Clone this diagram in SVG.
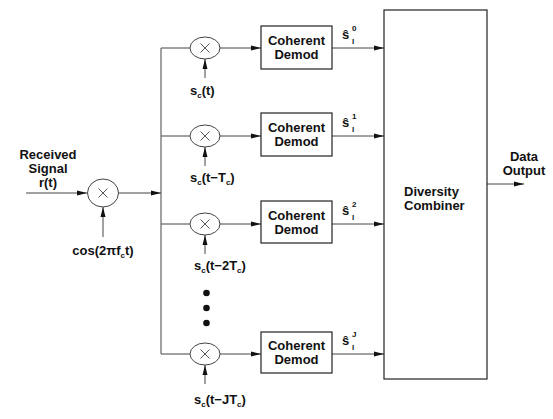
<svg xmlns="http://www.w3.org/2000/svg" width="553" height="419" viewBox="0 0 553 419">
<defs>
<marker id="ah" markerWidth="10" markerHeight="6" refX="10" refY="3" orient="auto" markerUnits="userSpaceOnUse">
<path d="M0,0.5 L10,3 L0,5.5 Z" fill="#111"/>
</marker>
</defs>
<style>
text{font-family:"Liberation Sans",Arial,sans-serif;font-weight:bold;fill:#111}
.lbl{font-size:13px}
.sm{font-size:8px}
.ln{stroke:#444;stroke-width:1;fill:none}
.box{fill:#fff;stroke:#222;stroke-width:1.2}
.mul{fill:#fff;stroke:#444;stroke-width:1}
.x{stroke:#444;stroke-width:0.9}
</style>
<rect width="553" height="419" fill="#fff"/>
<g id="connectors">
<line class="ln" x1="26" y1="193" x2="87" y2="193" marker-end="url(#ah)"/>
<line class="ln" x1="103" y1="237" x2="103" y2="207" marker-end="url(#ah)"/>
<line class="ln" x1="118" y1="193" x2="161" y2="193" marker-end="url(#ah)"/>
<line class="ln" x1="161" y1="48" x2="161" y2="354"/>
<line class="ln" x1="161" y1="48" x2="190" y2="48"/>
<line class="ln" x1="161" y1="136" x2="190" y2="136"/>
<line class="ln" x1="161" y1="224" x2="190" y2="224"/>
<line class="ln" x1="161" y1="354" x2="190" y2="354"/>
<line class="ln" x1="220" y1="48" x2="261" y2="48" marker-end="url(#ah)"/>
<line class="ln" x1="220" y1="136" x2="261" y2="136" marker-end="url(#ah)"/>
<line class="ln" x1="220" y1="224" x2="261" y2="224" marker-end="url(#ah)"/>
<line class="ln" x1="220" y1="354" x2="261" y2="354" marker-end="url(#ah)"/>
<line class="ln" x1="205" y1="78" x2="205" y2="59" marker-end="url(#ah)"/>
<line class="ln" x1="205" y1="166" x2="205" y2="147" marker-end="url(#ah)"/>
<line class="ln" x1="205" y1="254" x2="205" y2="235" marker-end="url(#ah)"/>
<line class="ln" x1="205" y1="384" x2="205" y2="365" marker-end="url(#ah)"/>
<line class="ln" x1="332" y1="48" x2="384" y2="48" marker-end="url(#ah)"/>
<line class="ln" x1="332" y1="136" x2="384" y2="136" marker-end="url(#ah)"/>
<line class="ln" x1="332" y1="224" x2="384" y2="224" marker-end="url(#ah)"/>
<line class="ln" x1="332" y1="354" x2="384" y2="354" marker-end="url(#ah)"/>
<line class="ln" x1="487" y1="184" x2="524" y2="184" marker-end="url(#ah)"/>
</g>
<g id="input">
<text class="lbl" x="48" y="159" text-anchor="middle">Received</text>
<text class="lbl" x="48" y="173" text-anchor="middle">Signal</text>
<text class="lbl" x="48" y="187" text-anchor="middle">r(t)</text>
</g>
<g id="mult-in">
<ellipse class="mul" cx="103" cy="193" rx="15.5" ry="14"/>
<line class="x" x1="98.5" y1="188.5" x2="107.5" y2="197.5"/>
<line class="x" x1="107.5" y1="188.5" x2="98.5" y2="197.5"/>
<text class="lbl" x="103" y="255" text-anchor="middle">cos(2πf<tspan class="sm" dy="3">c</tspan><tspan dy="-3">t)</tspan></text>
</g>
<g id="mult0">
<ellipse class="mul" cx="205" cy="48" rx="15" ry="11"/>
<line class="x" x1="200.5" y1="43.5" x2="209.5" y2="52.5"/>
<line class="x" x1="209.5" y1="43.5" x2="200.5" y2="52.5"/>
<text class="lbl" x="190" y="95">s<tspan class="sm" dy="3">c</tspan><tspan dy="-3">(t)</tspan></text>
</g>
<g id="mult1">
<ellipse class="mul" cx="205" cy="136" rx="15" ry="11"/>
<line class="x" x1="200.5" y1="131.5" x2="209.5" y2="140.5"/>
<line class="x" x1="209.5" y1="131.5" x2="200.5" y2="140.5"/>
<text class="lbl" x="190" y="182">s<tspan class="sm" dy="3">c</tspan><tspan dy="-3">(t−T</tspan><tspan class="sm" dy="3">c</tspan><tspan dy="-3">)</tspan></text>
</g>
<g id="mult2">
<ellipse class="mul" cx="205" cy="224" rx="15" ry="11"/>
<line class="x" x1="200.5" y1="219.5" x2="209.5" y2="228.5"/>
<line class="x" x1="209.5" y1="219.5" x2="200.5" y2="228.5"/>
<text class="lbl" x="194" y="270">s<tspan class="sm" dy="3">c</tspan><tspan dy="-3">(t−2T</tspan><tspan class="sm" dy="3">c</tspan><tspan dy="-3">)</tspan></text>
</g>
<g id="dots">
<circle cx="206.5" cy="293" r="3.3" fill="#111"/>
<circle cx="206.5" cy="308" r="3.3" fill="#111"/>
<circle cx="206.5" cy="323" r="3.3" fill="#111"/>
</g>
<g id="multJ">
<ellipse class="mul" cx="205" cy="354" rx="15" ry="11"/>
<line class="x" x1="200.5" y1="349.5" x2="209.5" y2="358.5"/>
<line class="x" x1="209.5" y1="349.5" x2="200.5" y2="358.5"/>
<text class="lbl" x="194" y="404">s<tspan class="sm" dy="3">c</tspan><tspan dy="-3">(t−JT</tspan><tspan class="sm" dy="3">c</tspan><tspan dy="-3">)</tspan></text>
</g>
<g id="demod0">
<rect class="box" x="261" y="26" width="71" height="43"/>
<text class="lbl" x="296.5" y="45" text-anchor="middle">Coherent</text>
<text class="lbl" x="296.5" y="59" text-anchor="middle">Demod</text>
</g>
<g id="demod1">
<rect class="box" x="261" y="113" width="71" height="43"/>
<text class="lbl" x="296.5" y="132" text-anchor="middle">Coherent</text>
<text class="lbl" x="296.5" y="146" text-anchor="middle">Demod</text>
</g>
<g id="demod2">
<rect class="box" x="261" y="201" width="71" height="42"/>
<text class="lbl" x="296.5" y="220" text-anchor="middle">Coherent</text>
<text class="lbl" x="296.5" y="234" text-anchor="middle">Demod</text>
</g>
<g id="demodJ">
<rect class="box" x="261" y="332" width="71" height="41"/>
<text class="lbl" x="296.5" y="350" text-anchor="middle">Coherent</text>
<text class="lbl" x="296.5" y="364" text-anchor="middle">Demod</text>
</g>
<g id="est">
<text class="lbl" x="342" y="39">ŝ</text><text class="sm" x="352" y="31">0</text><text class="sm" x="352" y="44">l</text>
<text class="lbl" x="342" y="127">ŝ</text><text class="sm" x="352" y="119">1</text><text class="sm" x="352" y="132">l</text>
<text class="lbl" x="342" y="215">ŝ</text><text class="sm" x="352" y="207">2</text><text class="sm" x="352" y="220">l</text>
<text class="lbl" x="342" y="345">ŝ</text><text class="sm" x="352" y="337">J</text><text class="sm" x="352" y="350">l</text>
</g>
<g id="combiner">
<rect class="box" x="384" y="10" width="103" height="369"/>
<text class="lbl" x="404" y="196">Diversity</text>
<text class="lbl" x="404" y="210">Combiner</text>
</g>
<g id="output">
<text class="lbl" x="524" y="161" text-anchor="middle">Data</text>
<text class="lbl" x="524" y="175" text-anchor="middle">Output</text>
</g>
</svg>
